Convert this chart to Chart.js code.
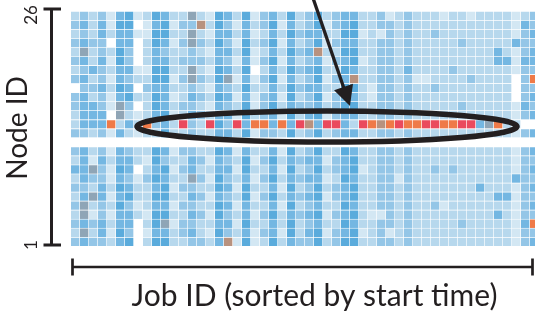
<!DOCTYPE html>
<html><head><meta charset="utf-8">
<script src="https://cdn.jsdelivr.net/npm/chart.js@4.4.1/dist/chart.umd.min.js"></script>
<style>html,body{margin:0;padding:0;background:#fff;overflow:hidden}canvas{display:block}</style>
</head><body><canvas id="c" width="535" height="318"></canvas>
<script>
// ---- data ----
const nodeTicks = ['1', '26'];
const nodeCount = 26;
const xTitle = 'Job ID (sorted by start time)';
const yTitle = 'Node ID';
// heat level per job (one string per job), listed from node 26 (top) down to node 1
// 0 = no data, 1..5 = low (light to dark blue), 6 = gray, 7 = brown, 8 = orange, 9 = red
const jobCells = [
  '23232|32303|3223|0|32423|232323',
  '34346|43434|4443|0|44443|466464',
  '22232|24232|4442|0|21632|621323',
  '34433|43343|3443|0|34334|433443',
  '11202|12121|1081|0|12112|121212',
  '45445|54454|6624|0|44545|454454',
  '55443|34345|3242|0|34434|534435',
  '10100|01202|0121|0|22012|212000',
  '21122|21232|2282|0|21232|221212',
  '54554|45545|5432|0|55454|545545',
  '45543|45544|4545|0|43545|545645',
  '21212|22121|2122|0|12121|212122',
  '23232|32322|3292|0|32323|232332',
  '63663|36634|3433|0|34463|434343',
  '27232|32323|2322|0|23232|323223',
  '12121|21212|1292|0|21212|121212',
  '55454|45545|4454|0|54455|455454',
  '43434|34634|3434|0|43434|343437',
  '21212|12121|2192|0|12121|212121',
  '54455|45454|5545|0|45545|544545',
  '12121|10121|1281|0|21212|121211',
  '33232|32323|3383|0|23232|323232',
  '45454|54544|5443|0|45454|545445',
  '21212|12121|2182|0|12121|212212',
  '54545|45455|4545|0|54545|454554',
  '22323|23232|3292|0|23232|323223',
  '33434|34343|3473|0|34343|434343',
  '55457|45545|4545|0|54545|545455',
  '21212|12121|2192|0|21212|121212',
  '33232|32323|3393|0|23323|323233',
  '44545|45454|5444|0|54454|454545',
  '45545|54754|5424|0|45545|545455',
  '22122|12222|2292|0|22122|222212',
  '22222|22211|2282|0|22222|221222',
  '33133|33333|3373|0|33333|331333',
  '13333|33333|3383|0|33333|333313',
  '22222|22222|2292|0|22212|222222',
  '33333|34333|3383|0|33333|333333',
  '22222|22122|2282|0|22222|222222',
  '22222|22122|2292|0|22222|222222',
  '22322|22232|2292|0|22322|232222',
  '12222|22222|2282|0|22222|212222',
  '22222|23222|2282|0|22322|222222',
  '22232|22222|3292|0|22222|222322',
  '12222|22322|2292|0|22222|222222',
  '22222|22222|2242|0|22224|222222',
  '22222|22222|2262|0|22222|222222',
  '22224|42222|2282|0|22222|424222',
  '22222|42222|2222|0|22222|422222',
  '11141|11000|1121|0|11141|111111',
  '24333|43333|4303|0|33333|333433',
  '33434|43834|3404|0|43434|343834'
];
const levelColors = ['#ffffff','#d3e7f3','#b7d8ed','#94c6e7','#74b7e2','#5aabdc','#8fa5b6','#b8927f','#ef7a48','#ea4a5d'];

// ---- build ----
const cols = jobCells.map(s => s.replace(/\|/g, '').split('').map(Number));
const jobs = cols.map((_, i) => i + 1);
const datasets = [];
for (let n = 1; n <= nodeCount; n++) {
  const r = nodeCount - n;
  const vals = cols.map(c => c[r]);
  datasets.push({
    label: 'Node ' + n,
    data: jobs.map((j, i) => ({ x: i + 0.5, y: [n - 1, n] })),
    backgroundColor: vals.map(v => levelColors[v]),
    borderColor: 'rgba(255,255,255,0.22)',
    borderWidth: { top: 1, right: 1, left: 0, bottom: 0 },
    borderSkipped: false,
    grouped: false,
    barPercentage: 1,
    categoryPercentage: 1
  });
}

const INK = '#231f20';
const FONT = 'Lato, "Open Sans", sans-serif';

const deco = {
  id: 'deco',
  afterDraw(chart) {
    const ctx = chart.ctx;
    const ca = chart.chartArea;
    ctx.save();
    ctx.strokeStyle = INK;
    ctx.fillStyle = INK;
    ctx.lineCap = 'butt';
    // y range bar
    const ax = ca.left - 19.5;
    const yTop = 9, yBot = 245;
    ctx.lineWidth = 3;
    ctx.beginPath();
    ctx.moveTo(ax, yTop); ctx.lineTo(ax, yBot);
    ctx.moveTo(ax - 8, yTop); ctx.lineTo(ax + 9.5, yTop);
    ctx.moveTo(ax - 8, yBot); ctx.lineTo(ax + 9.5, yBot);
    ctx.stroke();
    // tick labels
    ctx.font = '17px ' + FONT;
    ctx.textAlign = 'center';
    ctx.textBaseline = 'alphabetic';
    [[nodeTicks[1], yTop + 6], [nodeTicks[0], yBot]].forEach(([t, py]) => {
      ctx.save(); ctx.translate(37, py); ctx.rotate(-Math.PI / 2); ctx.fillText(t, 0, 0); ctx.restore();
    });
    // y title
    ctx.font = '28px ' + FONT;
    ctx.save(); ctx.translate(27, 128); ctx.rotate(-Math.PI / 2); ctx.fillText(yTitle, 0, 0); ctx.restore();
    // x range bar
    const xy = 267;
    ctx.lineWidth = 2.7;
    ctx.beginPath();
    ctx.moveTo(72, xy); ctx.lineTo(533, xy);
    ctx.moveTo(72.5, xy - 8.5); ctx.lineTo(72.5, xy + 8.5);
    ctx.moveTo(532.5, xy - 8.5); ctx.lineTo(532.5, xy + 8.5);
    ctx.stroke();
    ctx.font = '30px ' + FONT;
    ctx.fillText(xTitle, 314.5, 306);
    // ellipse highlight
    ctx.lineWidth = 5.5;
    ctx.beginPath();
    ctx.ellipse(327, 126.5, 190, 15.6, 0, 0, Math.PI * 2);
    ctx.stroke();
    // arrow
    const tip = [350, 106], start = [313, -2];
    const dx = tip[0] - start[0], dy = tip[1] - start[1];
    const L = Math.hypot(dx, dy), ux = dx / L, uy = dy / L;
    const hl = 20, hw = 10;
    const bx = tip[0] - ux * hl, by = tip[1] - uy * hl;
    ctx.lineWidth = 3.3;
    ctx.beginPath();
    ctx.moveTo(start[0], start[1]); ctx.lineTo(bx + ux * 2, by + uy * 2);
    ctx.stroke();
    ctx.beginPath();
    ctx.moveTo(tip[0], tip[1]);
    ctx.lineTo(bx + (-uy) * hw, by + ux * hw);
    ctx.lineTo(bx - (-uy) * hw, by - ux * hw);
    ctx.closePath();
    ctx.fill();
    ctx.restore();
  }
};

new Chart(document.getElementById('c'), {
  type: 'bar',
  data: { datasets },
  options: {
    responsive: false,
    animation: false,
    devicePixelRatio: 1,
    layout: { padding: { left: 71, top: 11, right: 0, bottom: 72 } },
    plugins: { legend: { display: false }, tooltip: { enabled: false } },
    scales: {
      x: { type: 'linear', min: 0, max: 464 / 9, offset: false, display: false },
      y: { type: 'linear', min: 0, max: nodeCount, display: false }
    }
  },
  plugins: [deco]
});
</script>
</body></html>
